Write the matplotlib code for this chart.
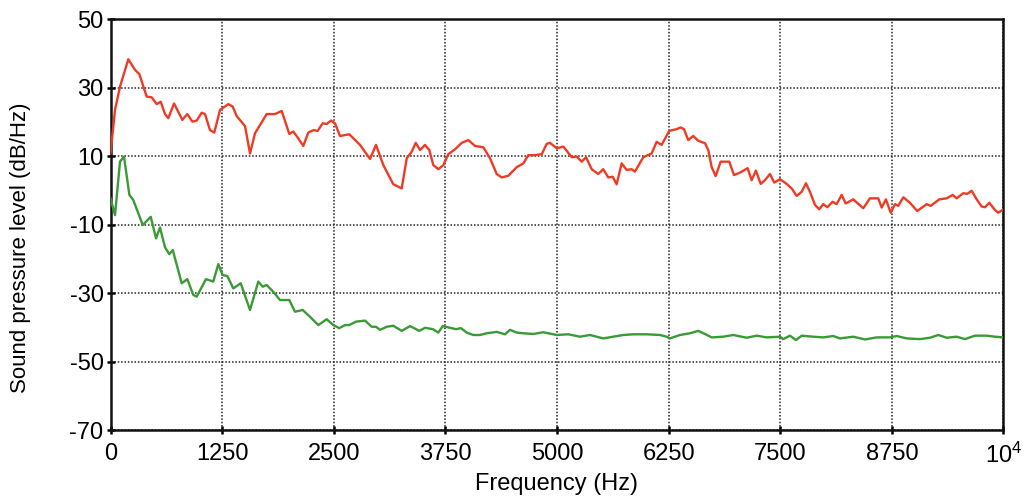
import matplotlib
matplotlib.use("Agg")
import matplotlib.pyplot as plt

plt.rcParams['font.family'] = ['Liberation Sans', 'DejaVu Sans']
plt.rcParams['mathtext.fontset'] = 'custom'
plt.rcParams['mathtext.rm'] = 'Liberation Sans'
plt.rcParams['axes.unicode_minus'] = False

red_freq = [0, 50, 106, 199, 274, 322, 405, 461, 517, 562, 610, 647, 711, 804, 860, 916, 965,
            1021, 1058, 1114, 1162, 1226, 1319, 1368, 1413, 1506, 1562, 1618, 1674, 1749, 1842,
            1917, 2002, 2047, 2103, 2159, 2215, 2271, 2320, 2376, 2421, 2469, 2514, 2570, 2674,
            2794, 2906, 2973, 3055, 3167, 3261, 3317, 3373, 3418, 3466, 3522, 3570, 3615, 3671,
            3727, 3783, 3858, 3933, 4007, 4082, 4175, 4250, 4325, 4381, 4455, 4549, 4623, 4679,
            4754, 4829, 4885, 4922, 4997, 5071, 5165, 5221, 5277, 5325, 5389, 5462, 5518, 5574,
            5624, 5668, 5724, 5780, 5836, 5873, 5966, 6060, 6116, 6172, 6257, 6340, 6385, 6422,
            6470, 6526, 6582, 6657, 6694, 6732, 6777, 6833, 6929, 6982, 7049, 7135, 7180, 7228,
            7281, 7329, 7385, 7433, 7497, 7572, 7628, 7684, 7740, 7788, 7833, 7889, 7937, 7982,
            8027, 8087, 8132, 8188, 8233, 8318, 8430, 8505, 8598, 8636, 8684, 8737, 8785, 8822,
            8878, 8953, 9034, 9140, 9185, 9281, 9364, 9431, 9476, 9550, 9594, 9644, 9700, 9756,
            9793, 9841, 9905, 9942, 10000]
red_level = [10.8, 23.5, 30.3, 38.3, 35.2, 34.0, 27.4, 27.2, 25.2, 25.9, 22.3, 21.1, 25.4, 20.6,
             22.3, 20.1, 20.4, 22.7, 22.3, 17.6, 16.9, 23.5, 25.2, 24.5, 21.7, 18.8, 10.8, 16.7,
             19.1, 22.3, 22.3, 23.2, 16.5, 17.2, 15.2, 13.0, 16.9, 17.6, 17.4, 19.6, 19.4, 20.4,
             19.6, 15.9, 16.4, 13.3, 9.2, 13.3, 7.4, 1.8, 0.6, 9.4, 11.3, 13.9, 11.8, 13.3, 11.8,
             7.4, 6.2, 7.4, 10.6, 12.0, 13.9, 14.7, 13.0, 12.6, 9.4, 4.8, 3.8, 4.3, 6.8, 7.9, 10.3,
             10.3, 10.6, 13.6, 13.9, 12.3, 12.8, 9.7, 9.9, 8.4, 9.7, 6.2, 4.8, 6.2, 3.8, 4.0, 1.8,
             7.9, 6.0, 6.2, 5.5, 9.7, 10.8, 14.2, 13.3, 17.4, 17.9, 18.4, 17.9, 14.7, 15.9, 14.5,
             13.8, 11.8, 6.8, 4.2, 8.4, 8.4, 4.5, 5.2, 6.5, 3.0, 5.8, 1.9, 3.0, 4.8, 2.3, 3.3, 1.9,
             0.6, -1.6, -0.4, 2.1, -0.4, -4.2, -5.5, -4.0, -4.9, -3.3, -4.0, -1.3, -3.8, -2.6, -5.2,
             -2.3, -2.3, -5.0, -2.6, -6.5, -4.0, -4.5, -2.0, -3.6, -6.0, -4.0, -4.5, -2.6, -2.3,
             -1.3, -2.3, -0.8, -1.0, -0.1, -2.6, -4.7, -4.9, -3.6, -5.7, -6.5, -5.5]

green_freq = [0, 50, 106, 151, 211, 255, 361, 450, 510, 554, 610, 658, 697, 797, 860, 927, 965,
              1069, 1151, 1207, 1256, 1308, 1375, 1458, 1562, 1655, 1704, 1749, 1823, 1898, 2002,
              2066, 2152, 2234, 2327, 2421, 2495, 2562, 2626, 2674, 2749, 2850, 2925, 2973, 3018,
              3093, 3167, 3261, 3354, 3458, 3522, 3611, 3671, 3720, 3802, 3869, 3925, 3989, 4063,
              4138, 4213, 4325, 4418, 4474, 4549, 4623, 4735, 4847, 4997, 5126, 5257, 5369, 5518,
              5630, 5742, 5854, 6004, 6153, 6228, 6265, 6377, 6489, 6582, 6657, 6732, 6862, 6974,
              7068, 7124, 7236, 7348, 7497, 7534, 7609, 7676, 7740, 7870, 7982, 8094, 8169, 8318,
              8449, 8580, 8729, 8804, 8916, 9065, 9177, 9270, 9364, 9476, 9569, 9681, 9812, 9905,
              10000]
green_level = [-2.3, -7.2, 8.4, 9.9, -1.3, -2.8, -10.1, -7.7, -14.0, -10.8, -16.6, -18.6, -17.4,
               -27.1, -25.9, -30.5, -31.0, -25.9, -26.6, -21.5, -24.7, -25.0, -28.6, -27.1, -34.9,
               -26.6, -28.1, -27.6, -29.6, -32.0, -32.0, -35.4, -34.9, -36.9, -39.3, -37.6, -39.3,
               -40.2, -39.3, -39.3, -38.3, -38.0, -39.8, -39.8, -40.7, -39.8, -39.5, -41.0, -39.6,
               -41.0, -40.1, -40.5, -41.5, -39.6, -40.1, -40.5, -40.2, -41.5, -42.2, -42.2, -41.7,
               -41.3, -42.0, -40.7, -41.5, -41.7, -41.9, -41.4, -42.2, -42.0, -42.7, -42.2, -43.2,
               -42.7, -42.2, -42.0, -42.0, -42.2, -42.7, -43.2, -42.2, -41.7, -41.0, -41.9, -42.9,
               -42.7, -42.2, -42.7, -43.0, -42.4, -42.9, -42.7, -43.4, -42.4, -43.7, -42.4, -42.7,
               -42.9, -42.5, -43.2, -42.7, -43.5, -42.9, -42.9, -42.5, -43.2, -43.4, -43.0, -42.2,
               -43.0, -42.7, -43.4, -42.4, -42.4, -42.7, -42.9]

x_ticks = [0, 1250, 2500, 3750, 5000, 6250, 7500, 8750, 10000]
x_tick_labels = ['0', '1250', '2500', '3750', '5000', '6250', '7500', '8750', r'$\mathregular{10^4}$']
y_ticks = [-70, -50, -30, -10, 10, 30, 50]

fig = plt.figure(figsize=(10.33, 5.01), dpi=100)
ax = fig.add_axes([0.107, 0.1413, 0.8644, 0.8204])

ax.plot(red_freq, red_level, color='#EE3B24', lw=1.7, zorder=3)
ax.plot(green_freq, green_level, color='#3A9A35', lw=1.7, zorder=3)

ax.set_xlim(0, 10000)
ax.set_ylim(-70, 50)
ax.set_xticks(x_ticks)
ax.set_xticklabels(x_tick_labels)
ax.set_yticks(y_ticks)

ax.grid(True, color='#222222', linestyle=(0, (1, 1.2)), lw=1.1)
for s in ax.spines.values():
    s.set_linewidth(1.8)
    s.set_color('#111111')

ax.tick_params(axis='both', direction='inout', length=6, width=1.8, labelsize=17)
ax.tick_params(axis='x', pad=6)
ax.tick_params(axis='y', pad=2)
ax.set_xlabel('Frequency (Hz)', fontsize=17, labelpad=4)
ax.set_ylabel('Sound pressure level (dB/Hz)', fontsize=16)
ax.yaxis.set_label_coords(-0.089, 0.445)

fig.savefig('out.png', dpi=100)
